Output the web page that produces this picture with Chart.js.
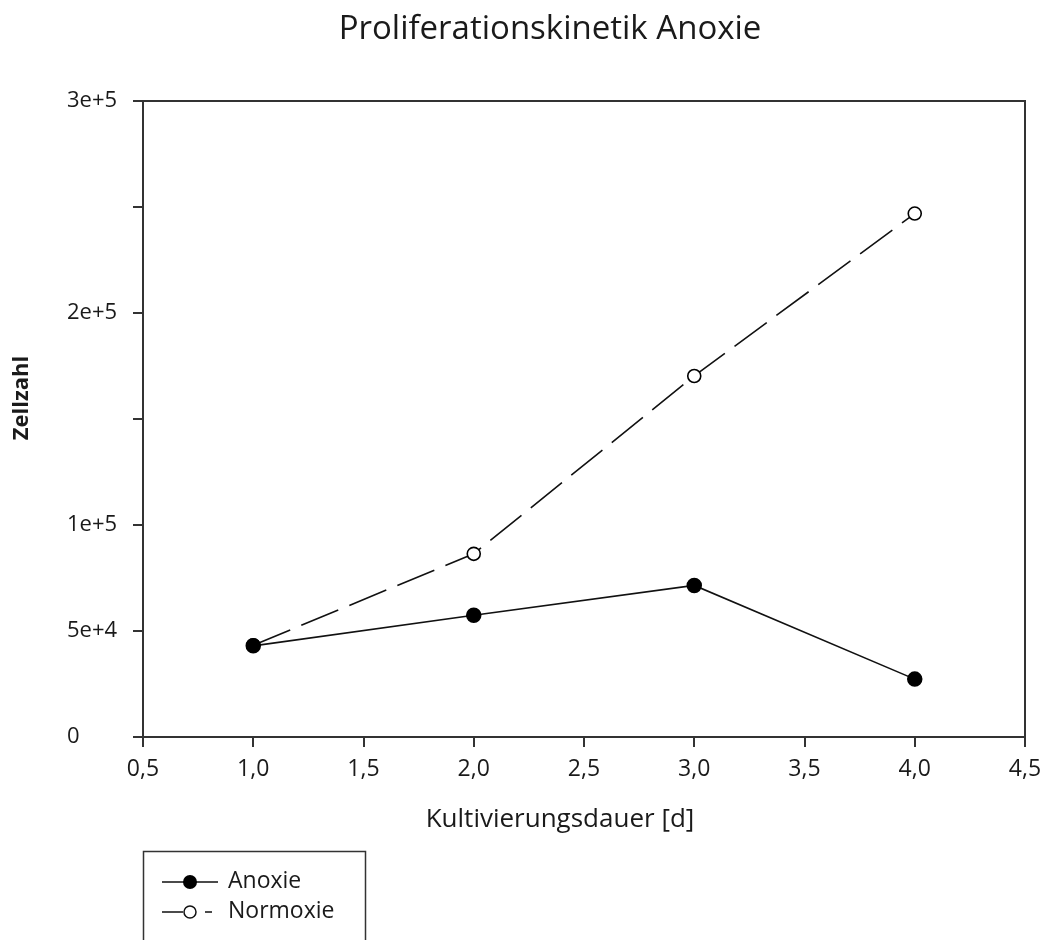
<!DOCTYPE html>
<html lang="de">
<head>
  <meta charset="UTF-8">
  <title>Proliferationskinetik Anoxie</title>
  <script src="https://cdn.jsdelivr.net/npm/chart.js"></script>
  <style>
    body { margin: 0; background: #fff; }
    #wrap { width: 1045px; height: 940px; }
  </style>
</head>
<body>
<div id="wrap"><canvas id="kinetik" width="1045" height="940"></canvas></div>

<script>
  // Kultivierungsdauer in Tagen
  const days = [1, 2, 3, 4];
  // Zellzahl je Tag
  const anoxie = [43000, 57400, 71500, 27300];
  const normoxie = [43300, 86400, 170300, 246900];

  const xTicks = [0.5, 1.0, 1.5, 2.0, 2.5, 3.0, 3.5, 4.0, 4.5];
  const yLabelledTicks = [0, 50000, 100000, 200000, 300000];
  const yLabelText = ['0', '5e+4', '1e+5', '2e+5', '3e+5'];

  const FONT = '"Open Sans", "DejaVu Sans", sans-serif';
  const INK = '#1a1a1a';

  function toPoints(values) {
    return days.map((d, i) => ({ x: d, y: values[i] }));
  }

  // title, axis titles, frame and the boxed legend below the plot
  const extras = {
    id: 'extras',
    afterDraw(chart) {
      const ctx = chart.ctx;
      const a = chart.chartArea;
      ctx.save();

      // top + right frame
      ctx.strokeStyle = '#333';
      ctx.lineWidth = 2;
      ctx.beginPath();
      ctx.moveTo(a.left, a.top);
      ctx.lineTo(a.right, a.top);
      ctx.lineTo(a.right, a.bottom);
      ctx.stroke();

      ctx.fillStyle = INK;
      ctx.textBaseline = 'middle';
      ctx.textAlign = 'center';
      ctx.font = '33px ' + FONT;
      ctx.fillText('Proliferationskinetik Anoxie', 550, 30);

      ctx.font = '26px ' + FONT;
      ctx.fillText('Kultivierungsdauer [d]', 560, 820);

      ctx.save();
      ctx.translate(22, 398);
      ctx.rotate(-Math.PI / 2);
      ctx.font = 'bold 22px ' + FONT;
      ctx.fillText('Zellzahl', 0, 0);
      ctx.restore();

      // legend box (runs off the bottom edge)
      ctx.strokeStyle = '#333';
      ctx.lineWidth = 1.5;
      ctx.strokeRect(143.5, 851.5, 222, 140);

      ctx.strokeStyle = '#111';
      ctx.lineWidth = 1.5;
      ctx.beginPath();
      ctx.moveTo(162, 882); ctx.lineTo(218, 882);
      ctx.moveTo(162, 912); ctx.lineTo(183, 912);
      ctx.moveTo(205, 912); ctx.lineTo(212, 912);
      ctx.stroke();

      ctx.fillStyle = '#000';
      ctx.beginPath(); ctx.arc(190, 882, 7, 0, Math.PI * 2); ctx.fill();
      ctx.fillStyle = '#fff';
      ctx.beginPath(); ctx.arc(190, 912, 6, 0, Math.PI * 2); ctx.fill(); ctx.stroke();

      ctx.fillStyle = INK;
      ctx.textAlign = 'left';
      ctx.font = '23px ' + FONT;
      ctx.fillText('Anoxie', 228, 881);
      ctx.fillText('Normoxie', 228, 911);

      ctx.restore();
    }
  };

  new Chart(document.getElementById('kinetik'), {
    type: 'line',
    data: {
      datasets: [{
        label: 'Anoxie',
        data: toPoints(anoxie),
        borderColor: '#111',
        borderWidth: 1.6,
        pointRadius: 7,
        pointBackgroundColor: '#000',
        pointBorderColor: '#000',
        pointBorderWidth: 1.5,
        tension: 0
      }, {
        label: 'Normoxie',
        data: toPoints(normoxie),
        borderColor: '#111',
        borderWidth: 1.6,
        borderDash: [40, 12],
        pointRadius: 6.5,
        pointBackgroundColor: '#fff',
        pointBorderColor: '#000',
        pointBorderWidth: 1.6,
        tension: 0
      }]
    },
    options: {
      responsive: false,
      animation: false,
      layout: { padding: { left: 67, right: 20, top: 101, bottom: 0 } },
      plugins: {
        legend: { display: false },
        title: { display: false },
        tooltip: { enabled: false }
      },
      scales: {
        x: {
          type: 'linear',
          min: xTicks[0],
          max: xTicks[xTicks.length - 1],
          afterBuildTicks: scale => { scale.ticks = xTicks.map(v => ({ value: v })); },
          afterFit: scale => {
            scale.height = 203;
            scale.paddingLeft = 0;
            scale.paddingRight = 0;
          },
          border: { color: '#333', width: 2 },
          grid: { drawOnChartArea: false, drawTicks: true, tickLength: 10, color: '#333', lineWidth: 2 },
          ticks: {
            padding: 9,
            color: INK,
            font: { family: FONT, size: 23 },
            maxRotation: 0,
            callback: v => v.toFixed(1).replace('.', ',')
          }
        },
        y: {
          type: 'linear',
          min: 0,
          max: 300000,
          afterFit: scale => {
            scale.width = 76;
            scale.paddingTop = 0;
            scale.paddingBottom = 0;
          },
          border: { color: '#333', width: 2 },
          grid: { drawOnChartArea: false, drawTicks: true, tickLength: 10, color: '#333', lineWidth: 2 },
          ticks: {
            stepSize: 50000,
            crossAlign: 'far',
            color: INK,
            font: { family: FONT, size: 22 },
            callback: v => {
              const i = yLabelledTicks.indexOf(v);
              return i >= 0 ? yLabelText[i] : '';
            }
          }
        }
      }
    },
    plugins: [extras]
  });
</script>
</body>
</html>
